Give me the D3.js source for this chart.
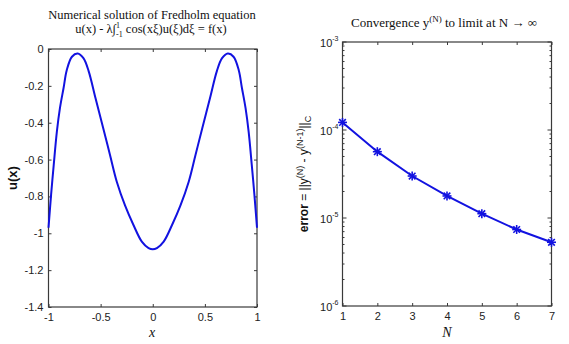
<!DOCTYPE html>
<html>
<head>
<meta charset="utf-8">
<script src="https://cdn.jsdelivr.net/npm/d3@7"></script>
<style>
  html, body { margin: 0; padding: 0; background: #fff; }
  svg { display: block; }
  .tick text { font-family: "Liberation Sans", Arial, sans-serif; font-size: 11px; fill: #222; }
</style>
</head>
<body>
<svg id="chart" width="569" height="344"></svg>
<script>
// Solution u(x) of the Fredholm equation on [-1, 1]
const xs = [-1, -0.975, -0.95, -0.92, -0.89, -0.855, -0.825, -0.775, -0.72, -0.665, -0.615, -0.55, -0.475, -0.41, -0.345, -0.265, -0.185, -0.105, -0.04, 0,
            0.04, 0.105, 0.185, 0.265, 0.345, 0.41, 0.475, 0.55, 0.615, 0.665, 0.72, 0.775, 0.825, 0.855, 0.89, 0.92, 0.95, 0.975, 1];
const us = [-0.97, -0.79, -0.63, -0.45, -0.32, -0.21, -0.115, -0.042, -0.025, -0.05, -0.12, -0.265, -0.43, -0.575, -0.72, -0.85, -0.955, -1.045, -1.08, -1.087,
            -1.08, -1.045, -0.955, -0.85, -0.72, -0.575, -0.43, -0.265, -0.12, -0.05, -0.025, -0.042, -0.115, -0.21, -0.32, -0.45, -0.63, -0.79, -0.97];
const uxTicks = [-1, -0.5, 0, 0.5, 1];
const uyTicks = [0, -0.2, -0.4, -0.6, -0.8, -1, -1.2, -1.4];

// Convergence error between successive approximations
const Ns = [1, 2, 3, 4, 5, 6, 7];
const errs = [1.22e-4, 5.67e-5, 3.0e-5, 1.78e-5, 1.12e-5, 7.4e-6, 5.3e-6];
const nTicks = [1, 2, 3, 4, 5, 6, 7];
const errDecades = [1e-3, 1e-4, 1e-5, 1e-6];

const svg = d3.select("#chart");
const blue = "#1212e0";
const axisColor = "#3a3a3a";
const serif = "'Liberation Serif', 'Times New Roman', serif";
const sans = "'Liberation Sans', Arial, sans-serif";

// plain hyphen-minus tick labels
const plain = d => String(+(+d).toFixed(2));

function styleAxis(g) {
  g.select(".domain").remove();
  g.selectAll(".tick line").attr("stroke", axisColor);
}

// ---------- left panel ----------
const x1 = d3.scaleLinear().domain([-1, 1]).range([48.5, 257]);
const y1 = d3.scaleLinear().domain([-1.4, 0]).range([307, 49]);

const L = svg.append("g");
L.append("g").attr("transform", `translate(0,${y1.range()[0]})`)
  .call(d3.axisBottom(x1).tickValues(uxTicks).tickSize(-3).tickPadding(6).tickFormat(plain))
  .call(styleAxis);
L.append("g").attr("transform", `translate(0,${y1.range()[1]})`)
  .call(d3.axisTop(x1).tickValues(uxTicks).tickSize(-3).tickFormat(""))
  .call(styleAxis);
L.append("g").attr("transform", `translate(${x1.range()[0]},0)`)
  .call(d3.axisLeft(y1).tickValues(uyTicks).tickSize(-3).tickPadding(5).tickFormat(plain))
  .call(styleAxis);
L.append("g").attr("transform", `translate(${x1.range()[1]},0)`)
  .call(d3.axisRight(y1).tickValues(uyTicks).tickSize(-3).tickFormat(""))
  .call(styleAxis);
L.append("rect")
  .attr("x", x1.range()[0]).attr("y", y1.range()[1])
  .attr("width", x1.range()[1] - x1.range()[0]).attr("height", y1.range()[0] - y1.range()[1])
  .attr("fill", "none").attr("stroke", axisColor).attr("stroke-width", 1.2);

const pts = xs.map((x, i) => [x, us[i]]);
L.append("path").datum(pts)
  .attr("fill", "none").attr("stroke", blue).attr("stroke-width", 2)
  .attr("stroke-linejoin", "round")
  .attr("d", d3.line().x(d => x1(d[0])).y(d => y1(d[1])).curve(d3.curveCatmullRom));

// titles and labels
L.append("text").attr("x", 152).attr("y", 19).attr("text-anchor", "middle")
  .attr("font-family", serif).attr("font-size", 12.5).attr("fill", "#111")
  .text("Numerical solution of Fredholm equation");
const t2 = L.append("text").attr("x", 151).attr("y", 32.5).attr("text-anchor", "middle")
  .attr("font-family", serif).attr("font-size", 12.5).attr("fill", "#111");
t2.append("tspan").text("u(x) - λ∫");
t2.append("tspan").attr("font-size", 8).attr("dy", -5).text("1");
t2.append("tspan").attr("font-size", 8).attr("dx", -4).attr("dy", 9).text("-1");
t2.append("tspan").attr("dy", -4).text(" cos(xξ)u(ξ)dξ = f(x)");

L.append("text").attr("transform", `translate(17,178) rotate(-90)`).attr("text-anchor", "middle")
  .attr("font-family", sans).attr("font-weight", "bold").attr("font-size", 13).attr("fill", "#111")
  .text("u(x)");
L.append("text").attr("x", 152).attr("y", 337).attr("text-anchor", "middle")
  .attr("font-family", serif).attr("font-style", "italic").attr("font-size", 14).attr("fill", "#111")
  .text("x");

// ---------- right panel ----------
const x2 = d3.scaleLinear().domain([1, 7]).range([342.5, 551.5]);
const y2 = d3.scaleLog().domain([1e-6, 1e-3]).range([306, 42]);

const R = svg.append("g");
R.append("g").attr("transform", `translate(0,${y2.range()[0]})`)
  .call(d3.axisBottom(x2).tickValues(nTicks).tickSize(-3).tickPadding(6).tickFormat(d3.format("d")))
  .call(styleAxis);
R.append("g").attr("transform", `translate(0,${y2.range()[1]})`)
  .call(d3.axisTop(x2).tickValues(nTicks).tickSize(-3).tickFormat(""))
  .call(styleAxis);

// log ticks: decades long, intermediate values short
const logTicks = y2.ticks();
const isDecade = v => Math.abs(Math.log10(v) - Math.round(Math.log10(v))) < 1e-9;
[[x2.range()[0], 1], [x2.range()[1], -1]].forEach(([xp, dir]) => {
  R.append("g").selectAll("line").data(logTicks).join("line")
    .attr("x1", xp).attr("x2", d => xp + dir * (isDecade(d) ? 4 : 2))
    .attr("y1", d => y2(d)).attr("y2", d => y2(d))
    .attr("stroke", axisColor);
});
const decLabels = R.append("g").selectAll("text").data(errDecades).join("text")
  .attr("x", x2.range()[0] - 4).attr("y", d => y2(d) + 5).attr("text-anchor", "end")
  .attr("font-family", sans).attr("font-size", 11).attr("fill", "#222");
decLabels.append("tspan").text("10");
decLabels.append("tspan").attr("font-size", 7).attr("dy", -6).text(d => String(Math.round(Math.log10(d))));

R.append("rect")
  .attr("x", x2.range()[0]).attr("y", y2.range()[1])
  .attr("width", x2.range()[1] - x2.range()[0]).attr("height", y2.range()[0] - y2.range()[1])
  .attr("fill", "none").attr("stroke", axisColor).attr("stroke-width", 1.2);

const epts = Ns.map((n, i) => [n, errs[i]]);
R.append("path").datum(epts)
  .attr("fill", "none").attr("stroke", blue).attr("stroke-width", 2)
  .attr("d", d3.line().x(d => x2(d[0])).y(d => y2(d[1])));

// asterisk markers
const s = 4.5, sd = 3.3;
const mk = R.append("g").selectAll("g").data(epts).join("g")
  .attr("transform", d => `translate(${x2(d[0])},${y2(d[1])})`)
  .attr("stroke", blue).attr("stroke-width", 1.6);
mk.append("line").attr("x1", -s).attr("x2", s);
mk.append("line").attr("y1", -s).attr("y2", s);
mk.append("line").attr("x1", -sd).attr("y1", -sd).attr("x2", sd).attr("y2", sd);
mk.append("line").attr("x1", -sd).attr("y1", sd).attr("x2", sd).attr("y2", -sd);

const rt = R.append("text").attr("x", 444).attr("y", 27).attr("text-anchor", "middle")
  .attr("font-family", serif).attr("font-size", 13).attr("fill", "#111");
rt.append("tspan").text("Convergence y");
rt.append("tspan").attr("font-size", 9).attr("dy", -5).text("(N)");
rt.append("tspan").attr("dy", 5).text(" to limit at N → ∞");

const yl = R.append("text").attr("transform", `translate(308,174) rotate(-90)`).attr("text-anchor", "middle")
  .attr("font-family", sans).attr("font-size", 12).attr("fill", "#111");
yl.append("tspan").attr("font-weight", "bold").text("error");
yl.append("tspan").text(" = ||y");
yl.append("tspan").attr("font-size", 9).attr("dy", -5).text("(N)");
yl.append("tspan").attr("dy", 5).text(" - y");
yl.append("tspan").attr("font-size", 9).attr("dy", -5).text("(N-1)");
yl.append("tspan").attr("dy", 5).text("||");
yl.append("tspan").attr("font-size", 9).attr("dy", 3).text("C");

R.append("text").attr("x", 447).attr("y", 337).attr("text-anchor", "middle")
  .attr("font-family", serif).attr("font-style", "italic").attr("font-size", 14).attr("fill", "#111")
  .text("N");
</script>
</body>
</html>
